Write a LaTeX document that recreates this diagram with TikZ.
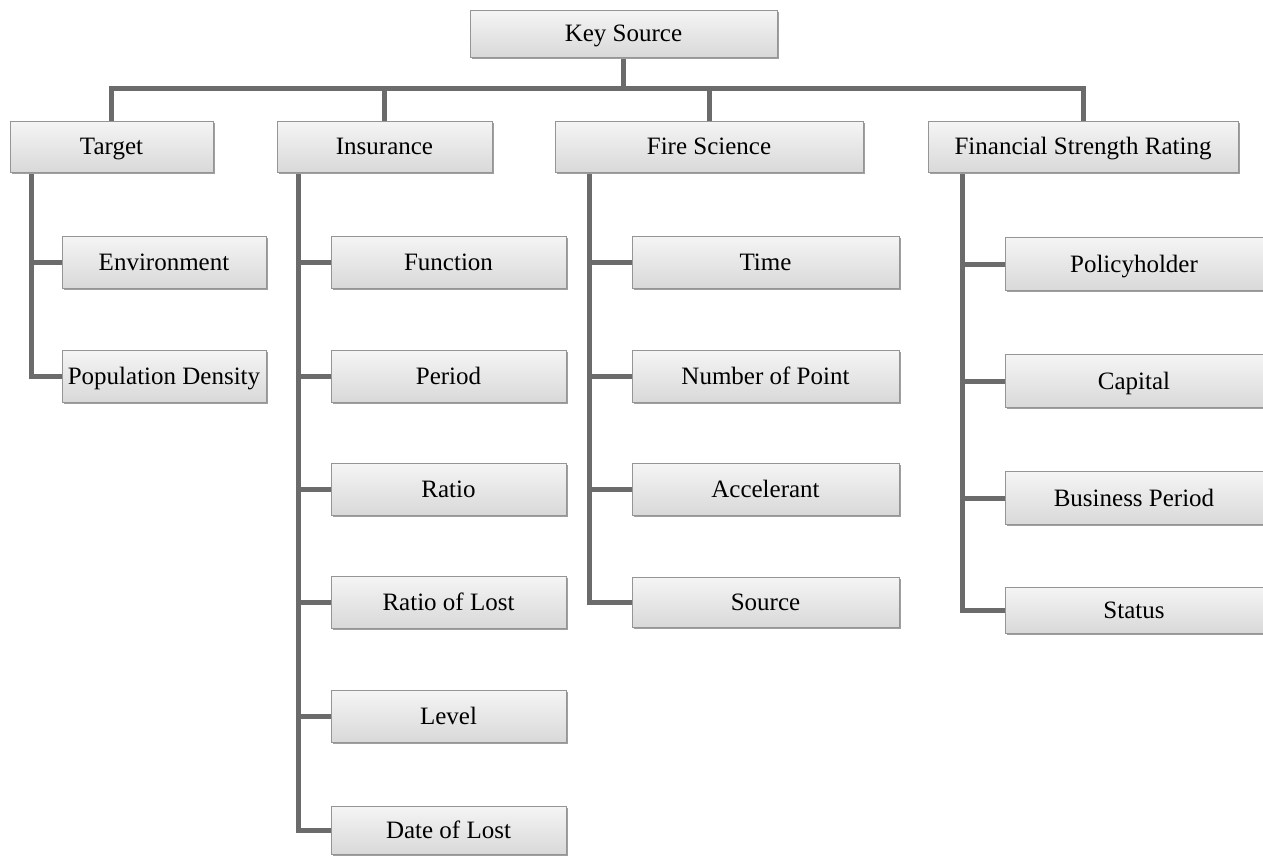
\documentclass[tikz,border=0pt]{standalone}
\usepackage{fontspec}
\setmainfont{Liberation Serif}
\usetikzlibrary{shadows}
\definecolor{linkgray}{HTML}{6B6B6B}
\definecolor{edgegray}{HTML}{959595}
\pgfdeclarelayer{back}
\pgfsetlayers{back,main}
\tikzset{
  box/.style={draw=edgegray, line width=0.8pt, top color=gray!8, bottom color=gray!30,
    minimum height=#1, inner sep=0pt, anchor=center,
    font=\fontsize{25}{28}\selectfont, text height=19pt, text depth=2.4pt,
    drop shadow={shadow xshift=1.6pt, shadow yshift=-1.6pt, fill=gray!75, opacity=1}},
  box/.default=51pt,
  conn/.style={draw=linkgray, line width=5pt}
}
\begin{document}
\begin{tikzpicture}[x=1pt,y=-1pt]
\useasboundingbox (0,0) rectangle (1263,855);

% top of the tree
\node[box=47pt, minimum width=307pt] (key) at (623.5,33.5) {Key Source};
\node[box, minimum width=203pt] (tgt) at (111.5,146.5) {Target};
\node[box, minimum width=215pt] (ins) at (384.5,146.5) {Insurance};
\node[box, minimum width=308pt] (fire) at (709,146.5) {Fire Science};
\node[box, minimum width=310pt] (fsr) at (1083,146.5) {Financial Strength Rating};

% Target branch
\node[box=52pt, minimum width=204pt] (env) at (164,262) {Environment};
\node[box=52pt, minimum width=204pt] (pop) at (164,376) {Population Density};

% Insurance branch
\node[box=52pt, minimum width=235pt] (func) at (448.5,262) {Function};
\node[box=52pt, minimum width=235pt] (per)  at (448.5,376) {Period};
\node[box=52pt, minimum width=235pt] (rat)  at (448.5,489) {Ratio};
\node[box=52pt, minimum width=235pt] (rol)  at (448.5,602) {Ratio of Lost};
\node[box=52pt, minimum width=235pt] (lev)  at (448.5,716) {Level};
\node[box=48pt, minimum width=235pt] (dol)  at (448.5,830) {Date of Lost};

% Fire Science branch
\node[box=52pt, minimum width=267pt] (time) at (765.5,262) {Time};
\node[box=52pt, minimum width=267pt] (nop)  at (765.5,376) {Number of Point};
\node[box=52pt, minimum width=267pt] (acc)  at (765.5,489) {Accelerant};
\node[box=50pt, minimum width=267pt] (src)  at (765.5,602) {Source};

% Financial Strength Rating branch
\node[box=53pt, minimum width=258pt] (pol) at (1134,264) {Policyholder};
\node[box=53pt, minimum width=258pt] (cap) at (1134,381) {Capital};
\node[box=53pt, minimum width=258pt] (bus) at (1134,498) {Business Period};
\node[box=46pt, minimum width=258pt] (sta) at (1134,610) {Status};

% trunk points of each branch
\coordinate (bar) at (0,88);
\coordinate (tk1) at ([xshift=22pt]tgt.south west);
\coordinate (tk2) at ([xshift=22pt]ins.south west);
\coordinate (tk3) at ([xshift=35pt]fire.south west);
\coordinate (tk4) at ([xshift=35pt]fsr.south west);

\begin{pgfonlayer}{back}
  % root to the four categories
  \draw[conn] (key.south) -- (key.south |- bar);
  \draw[conn] ([xshift=-2.5pt]tgt.north |- bar) -- ([xshift=2.5pt]fsr.north |- bar);
  \foreach \c in {tgt,ins,fire,fsr}
    \draw[conn] (\c.north |- bar) -- (\c.north);

  % category trunks down to their last item
  \draw[conn] (tk1) |- (pop.west);
  \draw[conn] (tk2) |- (dol.west);
  \draw[conn] (tk3) |- (src.west);
  \draw[conn] (tk4) |- (sta.west);

  % side branches
  \draw[conn] (tk1 |- env.west) -- (env.west);
  \foreach \c in {func,per,rat,rol,lev}
    \draw[conn] (tk2 |- \c.west) -- (\c.west);
  \foreach \c in {time,nop,acc}
    \draw[conn] (tk3 |- \c.west) -- (\c.west);
  \foreach \c in {pol,cap,bus}
    \draw[conn] (tk4 |- \c.west) -- (\c.west);
\end{pgfonlayer}
\end{tikzpicture}
\end{document}
